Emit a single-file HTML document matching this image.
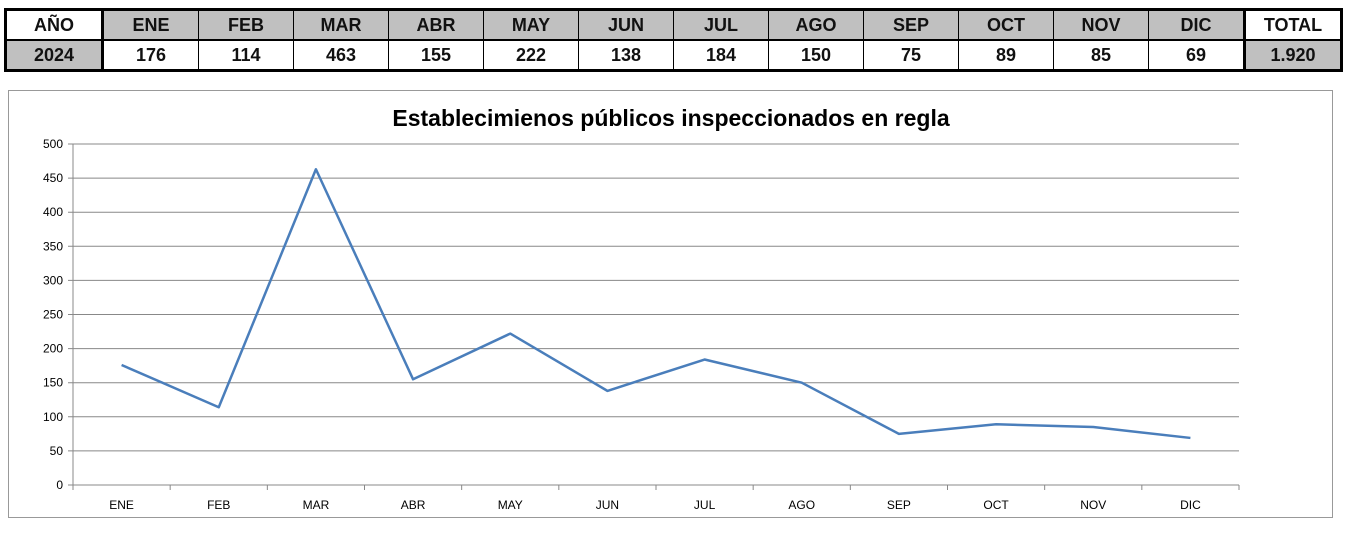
<!DOCTYPE html>
<html><head><meta charset="utf-8"><style>
body{margin:0;width:1348px;height:533px;background:#fff;position:relative;font-family:"Liberation Sans",sans-serif;overflow:hidden}
table{position:absolute;left:4px;top:8px;border-collapse:collapse;border:3px solid #000}
td{border:1px solid #000;width:94px;height:28px;padding:0;text-align:center;font-size:18px;font-weight:bold;color:#111}
tr.h td{border-bottom:2px solid #000}
.g{background:#c0c0c0}
td.b{border-left:3px solid #000;border-right:3px solid #000}
#chart{position:absolute;left:8px;top:90px}
</style></head><body>
<table>
<tr class="h"><td class="b">AÑO</td><td class="g">ENE</td><td class="g">FEB</td><td class="g">MAR</td><td class="g">ABR</td><td class="g">MAY</td><td class="g">JUN</td><td class="g">JUL</td><td class="g">AGO</td><td class="g">SEP</td><td class="g">OCT</td><td class="g">NOV</td><td class="g">DIC</td><td class="b">TOTAL</td></tr>
<tr><td class="g b">2024</td><td>176</td><td>114</td><td>463</td><td>155</td><td>222</td><td>138</td><td>184</td><td>150</td><td>75</td><td>89</td><td>85</td><td>69</td><td class="g b">1.920</td></tr>
</table>
<svg id="chart" width="1326" height="429"></svg>
<script>
const categories=["ENE","FEB","MAR","ABR","MAY","JUN","JUL","AGO","SEP","OCT","NOV","DIC"];
const values=[176,114,463,155,222,138,184,150,75,89,85,69];
const yTicks=[0,50,100,150,200,250,300,350,400,450,500];
const NS="http://www.w3.org/2000/svg";
const svg=document.getElementById("chart");
const L=65,R=1231,T=54,B=395,yMax=500;
const bw=(R-L)/categories.length;
const x=i=>L+bw*(i+0.5);
const y=v=>B-(v/yMax)*(B-T);
function mk(t,a){const e=document.createElementNS(NS,t);for(const k in a)e.setAttribute(k,a[k]);svg.appendChild(e);return e;}
const frame=mk("rect",{x:0.5,y:0.5,width:1324,height:427,fill:"#fff",stroke:"#999"});


const title=mk("text",{x:663,y:36,"text-anchor":"middle","font-size":"23","font-weight":"bold",fill:"#000","font-family":"Liberation Sans, sans-serif"});
title.textContent="Establecimienos públicos inspeccionados en regla";


yTicks.forEach(v=>{
 const g=mk("line",{x1:L-5,x2:R,y1:y(v),y2:y(v),stroke:"#888","stroke-width":1});
 
 
 const t=mk("text",{x:L-10,y:y(v)+4,"text-anchor":"end","font-size":"12",fill:"#000"});
 t.textContent=v;
 
 
});
const ax=mk("line",{x1:L,x2:L,y1:T,y2:B,stroke:"#888"});


for(let i=0;i<=categories.length;i++){
 const tk=mk("line",{x1:L+bw*i,x2:L+bw*i,y1:B,y2:B+5,stroke:"#888"});
 
 
}
categories.forEach((c,i)=>{
 const t=mk("text",{x:x(i),y:B+24,"text-anchor":"middle","font-size":"12",fill:"#000"});
 t.textContent=c;
 
 
});
const line=mk("polyline",{points:values.map((v,i)=>x(i)+","+y(v)).join(" "),fill:"none",stroke:"#4a7ebb","stroke-width":2.5,"stroke-linejoin":"round"});


</script>
</body></html>
